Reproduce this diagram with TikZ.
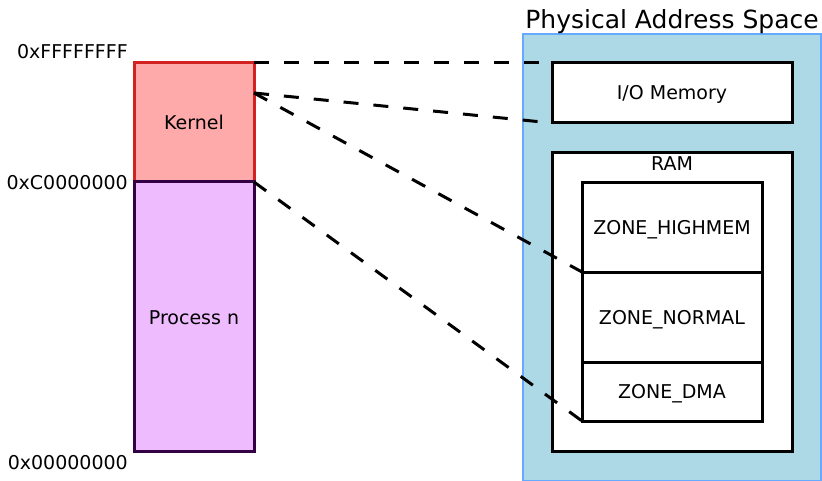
\documentclass[tikz,border=0pt]{standalone}
\usepackage{fontspec}
\setmainfont{DejaVu Sans}
\begin{document}
\begin{tikzpicture}[x=1pt,y=-1pt,
  txt/.style={font=\fontsize{19}{23}\selectfont, inner sep=0pt, text height=13.85pt, text depth=0pt},
  box/.style={draw=black, line width=3pt, fill=white},
  dashline/.style={line width=3pt, dash pattern=on 15pt off 15pt},
]
\useasboundingbox (0,0) rectangle (822,481);
% left column
\draw[line width=3pt, draw={rgb,255:red,210;green,34;blue,34}, fill={rgb,255:red,255;green,170;blue,170}] (134,63) rectangle (254,182);
\draw[line width=3pt, draw={rgb,255:red,51;green,0;blue,68}, fill={rgb,255:red,238;green,187;blue,255}] (134,182) rectangle (254,451);
\node[txt] (kernel) at (194,123) {Kernel};
\node[txt] (proc) at (194,318) {Process n};
\coordinate (kTop) at (254,63);
\coordinate (kMid) at (254,93);
\coordinate (kBot) at (254,182);
\node[txt, anchor=east] (a1) at (128,52) {0xFFFFFFFF};
\node[txt, anchor=east] (a2) at (128,183) {0xC0000000};
\node[txt, anchor=east] (a3) at (128,463) {0x00000000};
% physical address space
\draw[line width=2pt, draw={rgb,255:red,102;green,170;blue,255}, fill={rgb,255:red,173;green,216;blue,230}] (523,34) rectangle (821,481);
\node[font=\fontsize{25}{29}\selectfont, inner sep=0pt, text height=18.2pt, text depth=0pt] (pas) at (672,19) {Physical Address Space};
\draw[box] (552,63) rectangle (792,123);
\node[txt] (io) at (672,93) {I/O Memory};
\coordinate (ioTL) at (552,63);
\coordinate (ioBL) at (552,123);
\draw[box] (552,153) rectangle (792,451);
\node[txt] (ram) at (672,164) {RAM};
\draw[box] (582,183) rectangle (762,272);
\node[txt] (hm) at (672,228) {ZONE\_HIGHMEM};
\draw[box] (582,272) rectangle (762,362);
\node[txt] (nm) at (672,318) {ZONE\_NORMAL};
\draw[box] (582,362) rectangle (762,421);
\node[txt] (dma) at (672,392) {ZONE\_DMA};
\coordinate (hmTL) at (582,272);
\coordinate (dmaBL) at (582,421);
% dashed connectors
\draw[dashline] (kTop) -- (ioTL);
\draw[dashline] (kMid) -- (ioBL);
\draw[dashline] (kMid) -- (hmTL);
\draw[dashline] (kBot) -- (dmaBL);
\end{tikzpicture}
\end{document}
